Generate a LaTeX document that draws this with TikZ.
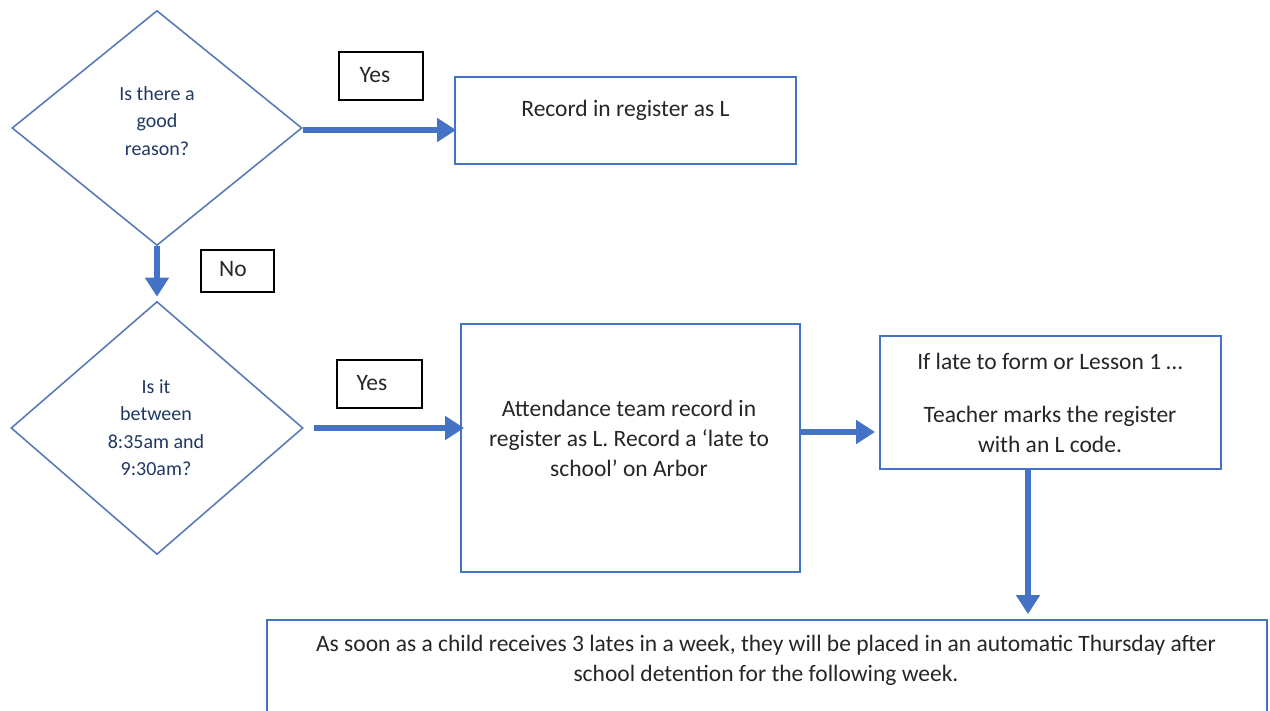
\documentclass[tikz,border=0pt]{standalone}
\usepackage{fontspec}
\setmainfont{Carlito}
\usetikzlibrary{shapes.geometric,arrows.meta}
\definecolor{flowblue}{HTML}{4472C4}
\definecolor{diaedge}{HTML}{5B7BB8}
\definecolor{qtext}{HTML}{203864}
\definecolor{btext}{HTML}{262626}
\tikzset{
  dia/.style={shape=diamond, draw=diaedge, line width=1.6pt, inner sep=0pt, aspect=1},
  qtxt/.style={text=qtext, align=center, font=\fontsize{20}{27.5}\selectfont},
  bluebox/.style={draw=flowblue, line width=1.8pt, inner sep=0pt},
  blackbox/.style={draw=black, line width=1.8pt, inner sep=0pt},
  btxt/.style={text=btext, align=center, inner sep=0pt, font=\fontsize{23.5}{30}\selectfont},
  flow/.style={draw=flowblue, line width=6pt, -{Triangle[length=19pt,width=23pt]}},
}
\begin{document}
\begin{tikzpicture}[x=1pt,y=-1pt]
\useasboundingbox (0,0) rectangle (1270,711);
\clip (0,0) rectangle (1270,711);
% decisions
\node[dia, minimum width=290pt, minimum height=235pt] (d1) at (157,128) {};
\node[qtxt] (d1t) at (157,121) {Is there a\\good\\reason?};
\node[dia, minimum width=292pt, minimum height=253pt] (d2) at (157,428) {};
\node[qtxt] (d2t) at (156,427.5) {Is it\\between\\8:35am and\\9:30am?};
% label boxes
\node[blackbox, minimum width=84pt, minimum height=48pt] (yes1) at (381,76) {};
\node[btxt] (yes1t) at (375,75) {Yes};
\node[blackbox, minimum width=73pt, minimum height=42pt] (no) at (237.5,271) {};
\node[btxt] (not) at (233,269) {No};
\node[blackbox, minimum width=85pt, minimum height=48pt] (yes2) at (379.5,384) {};
\node[btxt] (yes2t) at (372,383) {Yes};
% process boxes
\node[bluebox, minimum width=341pt, minimum height=87pt] (b1) at (625.5,120.5) {};
\node[btxt] (b1t) at (625.5,110) {Record in register as L};
\node[bluebox, minimum width=339pt, minimum height=248pt] (b2) at (630.5,448) {};
\node[btxt] (b2t) at (629,438) {Attendance team record in\\register as L. Record a ‘late to\\school’ on Arbor};
\node[bluebox, minimum width=341pt, minimum height=133pt] (b3) at (1050.5,402.5) {};
\node[btxt] (b3a) at (1050,361) {If late to form or Lesson 1 …};
\node[btxt] (b3b) at (1050,429) {Teacher marks the register\\with an L code.};
\node[bluebox, minimum width=1000pt, minimum height=160pt] (b4) at (767,700) {};
\node[btxt] (b4t) at (766,660) {As soon as a child receives 3 lates in a week, they will be placed in an automatic Thursday after\\school detention for the following week.};
% connectors
\draw[flow] ([yshift=-2pt]d1.east) -- ([yshift=-2pt,xshift=2pt]d1.east -| b1.west);
\draw[flow] (d1.south) -- ([yshift=4pt]d1.south |- d2.north);
\draw[flow] ([xshift=10pt]d2.east) -- ([xshift=4pt]d2.east -| b2.west);
\draw[flow] ([yshift=16pt]b2.east) -- ([yshift=16pt,xshift=-4pt]b2.east -| b3.west);
\draw[flow] ([xshift=-22.5pt]b3.south) -- ([xshift=-22.5pt,yshift=5pt]b3.south |- b4.north);
\end{tikzpicture}
\end{document}
